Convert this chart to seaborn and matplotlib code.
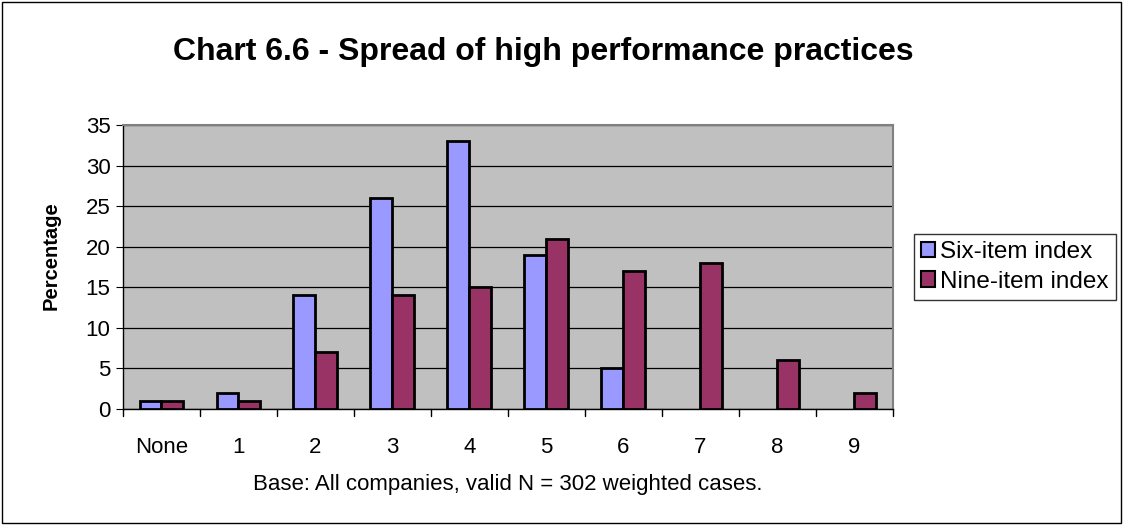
import pandas as pd
import seaborn as sns
import matplotlib.pyplot as plt
from matplotlib.patches import Rectangle

categories = ['None', '1', '2', '3', '4', '5', '6', '7', '8', '9']
six_item = [1, 2, 14, 26, 33, 19, 5, 0, 0, 0]
nine_item = [1, 1, 7, 14, 15, 21, 17, 18, 6, 2]
series = ['Six-item index', 'Nine-item index']
colors = ['#9999FF', '#993366']

df = pd.DataFrame({
    'practices': categories * 2,
    'value': six_item + nine_item,
    'index': [series[0]] * len(categories) + [series[1]] * len(categories),
})

sns.set_style('white')
plt.rcParams['font.family'] = ['Liberation Sans', 'DejaVu Sans']
plt.rcParams['text.color'] = 'black'
plt.rcParams['axes.labelcolor'] = 'black'
plt.rcParams['xtick.color'] = 'black'
plt.rcParams['ytick.color'] = 'black'

fig = plt.figure(figsize=(11.23, 5.25), dpi=100)
ax = fig.add_axes([0.1095, 0.221, 0.6855, 0.541])
ax.set_facecolor('#C0C0C0')

sns.barplot(data=df, x='practices', y='value', hue='index', order=categories,
            hue_order=series, palette=colors, saturation=1, width=0.57, gap=0,
            edgecolor='black', linewidth=2, ax=ax, zorder=3, legend=False)

# hide empty bars (Excel draws nothing for zero)
for p in ax.patches:
    if p.get_height() == 0:
        p.set_visible(False)

ax.set_ylim(0, 35)
ax.set_yticks(range(0, 36, 5))
ax.set_xlim(-0.5, len(categories) - 0.5)
ax.yaxis.grid(True, color='black', linewidth=0.9, zorder=0)
ax.set_axisbelow(True)

# Excel-style ticks between categories
ax.set_xticks(range(len(categories)))
ax.set_xticklabels(categories, fontsize=16)
ax.tick_params(axis='x', length=0, pad=20)
for x in [i - 0.5 for i in range(len(categories) + 1)]:
    ax.plot([x, x], [0, -0.9], color='black', linewidth=1, clip_on=False)
ax.tick_params(axis='y', labelsize=16, length=5, direction='out', left=True, pad=4)

for side in ['top', 'right']:
    ax.spines[side].set_color('#808080')
    ax.spines[side].set_linewidth(1.5)
for side in ['left', 'bottom']:
    ax.spines[side].set_color('black')
    ax.spines[side].set_linewidth(1)

ax.set_ylabel('Percentage', fontsize=14.5, fontweight='bold')
ax.yaxis.set_label_coords(-0.081, 0.54)
ax.set_xlabel('Base: All companies, valid N = 302 weighted cases.', fontsize=16, labelpad=12)

fig.suptitle('Chart 6.6 - Spread of high performance practices', x=0.484, y=0.93,
             fontsize=23, fontweight='bold')

handles = [Rectangle((0, 0), 1, 1, facecolor=c, edgecolor='black', linewidth=1.5)
           for c in colors]
leg = ax.legend(handles, series, loc='center left', bbox_to_anchor=(1.027, 0.5),
                fontsize=17.5, frameon=True, fancybox=False, edgecolor='black',
                handlelength=0.6, handleheight=0.6, handletextpad=0.2,
                borderpad=0.3, labelspacing=0.3, borderaxespad=0)
leg.get_frame().set_linewidth(1)

fig.patches.append(Rectangle((0.002, 0.003), 0.996, 0.994, transform=fig.transFigure,
                             fill=False, edgecolor='black', linewidth=1))

plt.savefig('out.png', dpi=100)
